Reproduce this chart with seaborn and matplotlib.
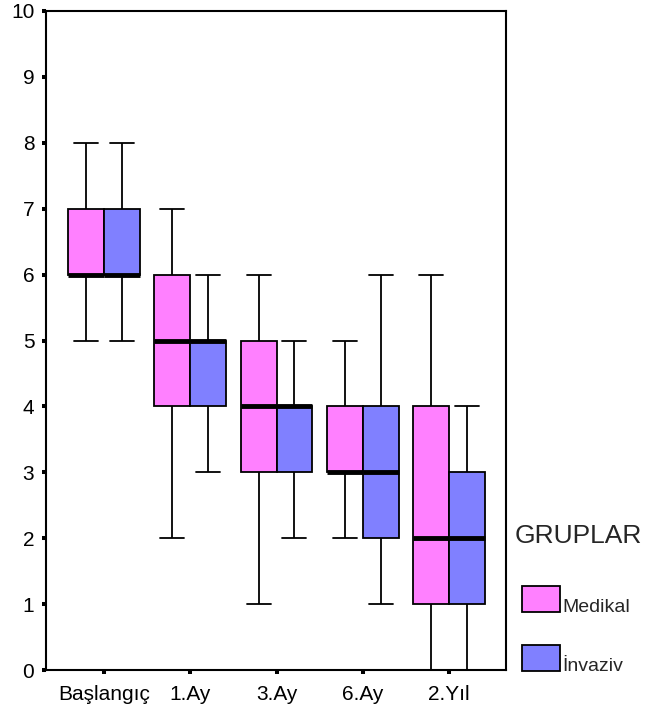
import pandas as pd
import numpy as np
import matplotlib.pyplot as plt
import seaborn as sns
from matplotlib.patches import Rectangle

# --- DATA (five-number summaries) ---
zaman = ["Başlangıç", "1.Ay", "3.Ay", "6.Ay", "2.Yıl"]
gruplar = ["Medikal", "İnvaziv"]
medikal = [[5, 6, 6, 7, 8], [2, 4, 5, 6, 7], [1, 3, 4, 5, 6], [2, 3, 3, 4, 5], [0, 1, 2, 4, 6]]
invaziv = [[5, 6, 6, 7, 8], [3, 4, 5, 5, 6], [2, 3, 4, 4, 5], [1, 2, 3, 4, 6], [0, 1, 2, 3, 4]]
renkler = ["#FF80FF", "#8080FF"]

rows = []
for z, m, i in zip(zaman, medikal, invaziv):
    for v in m:
        rows.append((z, gruplar[0], v))
    for v in i:
        rows.append((z, gruplar[1], v))
df = pd.DataFrame(rows, columns=["zaman", "grup", "skor"])

# --- PLOT ---
sns.set_style("white")
plt.rcParams['font.family'] = ['Liberation Sans', 'DejaVu Sans']

W, H = 647, 715
fig = plt.figure(figsize=(W / 100, H / 100), dpi=100)
ax = fig.add_axes([46/W, 1 - 670/H, 460/W, 659/H])

sns.boxplot(data=df, x="zaman", y="skor", hue="grup", order=zaman, hue_order=gruplar,
            palette=renkler, saturation=1, whis=(0, 100), width=0.83, gap=0,
            showfliers=False, linecolor="black", linewidth=1.3,
            medianprops=dict(linewidth=3.5, color="black", solid_capstyle="butt"),
            capwidths=0.28, legend=False, ax=ax)

ax.set_ylim(0, 10)
ax.set_xlim(-0.672, 4.66)
ax.set_yticks(range(11))
ax.set_xlabel("")
ax.set_ylabel("")
for s in ax.spines.values():
    s.set_visible(True)
    s.set_color("black")
    s.set_linewidth(1.5)
ax.tick_params(axis="both", direction="out", length=2.9, width=2.9, color="black",
               left=True, bottom=True, labelsize=15, labelcolor="black")
ax.tick_params(axis="y", pad=5.5)
ax.tick_params(axis="x", pad=8)

# --- LEGEND (SPSS style: text sits on the bottom edge of each swatch) ---
def px(x, y):
    return x / W, 1 - y / H

fig.text(*px(515, 543), "GRUPLAR", fontsize=19, va="baseline", ha="left")
for k, (g, c) in enumerate(zip(gruplar, renkler)):
    bottom = 612 + k * 59
    x0, y0 = px(522, bottom)
    fig.add_artist(Rectangle((x0, y0), 38 / W, 26 / H, transform=fig.transFigure,
                             facecolor=c, edgecolor="black", linewidth=1.3))
    fig.text(*px(562, bottom), g, fontsize=14, va="baseline", ha="left")

plt.savefig("out.png", dpi=100)
